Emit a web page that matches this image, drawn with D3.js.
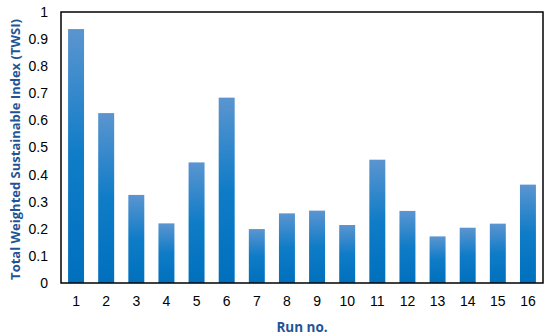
<!DOCTYPE html>
<html>
<head>
<meta charset="utf-8">
<script src="https://cdn.jsdelivr.net/npm/d3@7"></script>
<style>
  body { margin: 0; background: #fff; }
  svg { display: block; font-family: "Open Sans", "Liberation Sans", sans-serif; }
  .tick text { font-size: 14px; fill: #000; }
  .axis-title { font-weight: bold; fill: #1f5597; }
</style>
</head>
<body>
<svg class="chart" width="550" height="336"></svg>
<script>
const runs = ["1","2","3","4","5","6","7","8","9","10","11","12","13","14","15","16"]
const twsi = [0.937, 0.627, 0.325, 0.22, 0.445, 0.684, 0.199, 0.257,
              0.267, 0.214, 0.455, 0.266, 0.172, 0.204, 0.219, 0.363]
const yTicks = [0, 0.1, 0.2, 0.3, 0.4, 0.5, 0.6, 0.7, 0.8, 0.9, 1]

const svg = d3.select("svg.chart")
const plotLeft = 61, plotRight = 543, plotTop = 12, plotBottom = 283

const x = d3.scaleBand()
  .domain(runs)
  .range([plotLeft, plotRight])
  .paddingInner(0.47)
  .paddingOuter(0.235)

const y = d3.scaleLinear()
  .domain([0, 1])
  .range([plotBottom, plotTop])

// gradient for the bars, lighter on top
const grad = svg.append("defs").append("linearGradient")
  .attr("id", "barGrad")
  .attr("x1", 0).attr("y1", 0).attr("x2", 0).attr("y2", 1)
grad.append("stop").attr("offset", "0%").attr("stop-color", "#5b95d0")
grad.append("stop").attr("offset", "50%").attr("stop-color", "#0f7cc7")
grad.append("stop").attr("offset", "100%").attr("stop-color", "#0070bd")

svg.append("g")
  .selectAll("rect")
  .data(twsi)
  .enter()
  .append("rect")
  .attr("x", (d, i) => x(runs[i]))
  .attr("y", d => y(d))
  .attr("width", x.bandwidth())
  .attr("height", d => y(0) - y(d))
  .attr("fill", "url(#barGrad)")

// frame
svg.append("rect")
  .attr("x", plotLeft).attr("y", plotTop)
  .attr("width", plotRight - plotLeft).attr("height", plotBottom - plotTop)
  .attr("fill", "none")
  .attr("stroke", "#000")
  .attr("stroke-width", 1.5)

const yAxis = svg.append("g")
  .attr("transform", "translate(" + plotLeft + ",0)")
  .call(d3.axisLeft(y).tickValues(yTicks).tickSize(0).tickPadding(13).tickFormat(d3.format("")))
yAxis.select(".domain").remove()

const xAxis = svg.append("g")
  .attr("transform", "translate(0," + plotBottom + ")")
  .call(d3.axisBottom(x).tickSize(0).tickPadding(13))
xAxis.select(".domain").remove()

svg.append("text")
  .attr("class", "axis-title")
  .attr("x", (plotLeft + plotRight) / 2)
  .attr("y", 332)
  .attr("text-anchor", "middle")
  .style("font-size", "13.5px")
  .text("Run no.")

svg.append("text")
  .attr("class", "axis-title")
  .attr("transform", "translate(20," + ((plotTop + plotBottom) / 2 + 2) + ") rotate(-90)")
  .attr("text-anchor", "middle")
  .style("font-size", "13px")
  .text("Total Weighted Sustainable Index (TWSI)")
</script>
</body>
</html>
